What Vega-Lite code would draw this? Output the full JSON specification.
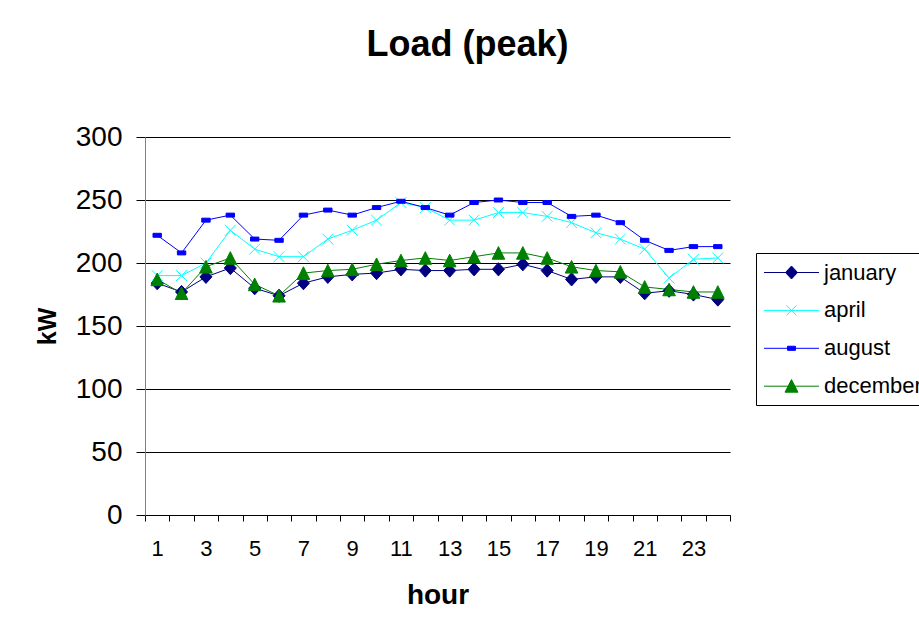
{
  "$schema": "https://vega.github.io/schema/vega-lite/v6.json",
  "width": 585,
  "height": 378,
  "autosize": {"type": "none"},
  "padding": {"left": 145, "top": 137, "right": 189, "bottom": 114},
  "background": "white",
  "config": {"font": "Liberation Sans", "view": {"stroke": null}},
  "title": {"text": "Load (peak)", "fontSize": 36, "fontWeight": "bold", "font": "Liberation Sans", "color": "#000", "anchor": "middle", "dx": 30, "baseline": "alphabetic", "offset": 31},
  "data": {"values": [
    {"hour":1,"series":"january","kW":184},{"hour":2,"series":"january","kW":177},{"hour":3,"series":"january","kW":189},{"hour":4,"series":"january","kW":196},{"hour":5,"series":"january","kW":180},{"hour":6,"series":"january","kW":174},{"hour":7,"series":"january","kW":184},{"hour":8,"series":"january","kW":189},{"hour":9,"series":"january","kW":191},{"hour":10,"series":"january","kW":192},{"hour":11,"series":"january","kW":195},{"hour":12,"series":"january","kW":194},{"hour":13,"series":"january","kW":194},{"hour":14,"series":"january","kW":195},{"hour":15,"series":"january","kW":195},{"hour":16,"series":"january","kW":199},{"hour":17,"series":"january","kW":194},{"hour":18,"series":"january","kW":187},{"hour":19,"series":"january","kW":189},{"hour":20,"series":"january","kW":189},{"hour":21,"series":"january","kW":176},{"hour":22,"series":"january","kW":178},{"hour":23,"series":"january","kW":175},{"hour":24,"series":"january","kW":171},
    {"hour":1,"series":"april","kW":190},{"hour":2,"series":"april","kW":190},{"hour":3,"series":"april","kW":200},{"hour":4,"series":"april","kW":226},{"hour":5,"series":"april","kW":211},{"hour":6,"series":"april","kW":205},{"hour":7,"series":"april","kW":205},{"hour":8,"series":"april","kW":219},{"hour":9,"series":"april","kW":226},{"hour":10,"series":"april","kW":234},{"hour":11,"series":"april","kW":248},{"hour":12,"series":"april","kW":244},{"hour":13,"series":"april","kW":234},{"hour":14,"series":"april","kW":234},{"hour":15,"series":"april","kW":240},{"hour":16,"series":"april","kW":240},{"hour":17,"series":"april","kW":237},{"hour":18,"series":"april","kW":232},{"hour":19,"series":"april","kW":224},{"hour":20,"series":"april","kW":219},{"hour":21,"series":"april","kW":211},{"hour":22,"series":"april","kW":188},{"hour":23,"series":"april","kW":203},{"hour":24,"series":"april","kW":204},
    {"hour":1,"series":"august","kW":222},{"hour":2,"series":"august","kW":208},{"hour":3,"series":"august","kW":234},{"hour":4,"series":"august","kW":238},{"hour":5,"series":"august","kW":219},{"hour":6,"series":"august","kW":218},{"hour":7,"series":"august","kW":238},{"hour":8,"series":"august","kW":242},{"hour":9,"series":"august","kW":238},{"hour":10,"series":"august","kW":244},{"hour":11,"series":"august","kW":249},{"hour":12,"series":"august","kW":244},{"hour":13,"series":"august","kW":238},{"hour":14,"series":"august","kW":248},{"hour":15,"series":"august","kW":250},{"hour":16,"series":"august","kW":248},{"hour":17,"series":"august","kW":248},{"hour":18,"series":"august","kW":237},{"hour":19,"series":"august","kW":238},{"hour":20,"series":"august","kW":232},{"hour":21,"series":"august","kW":218},{"hour":22,"series":"august","kW":210},{"hour":23,"series":"august","kW":213},{"hour":24,"series":"august","kW":213},
    {"hour":1,"series":"december","kW":187},{"hour":2,"series":"december","kW":176},{"hour":3,"series":"december","kW":197},{"hour":4,"series":"december","kW":204},{"hour":5,"series":"december","kW":183},{"hour":6,"series":"december","kW":174},{"hour":7,"series":"december","kW":192},{"hour":8,"series":"december","kW":194},{"hour":9,"series":"december","kW":195},{"hour":10,"series":"december","kW":199},{"hour":11,"series":"december","kW":202},{"hour":12,"series":"december","kW":204},{"hour":13,"series":"december","kW":202},{"hour":14,"series":"december","kW":205},{"hour":15,"series":"december","kW":208},{"hour":16,"series":"december","kW":208},{"hour":17,"series":"december","kW":204},{"hour":18,"series":"december","kW":197},{"hour":19,"series":"december","kW":194},{"hour":20,"series":"december","kW":193},{"hour":21,"series":"december","kW":181},{"hour":22,"series":"december","kW":179},{"hour":23,"series":"december","kW":177},{"hour":24,"series":"december","kW":177}
  ]},
  "encoding": {
    "x": {
      "field": "hour", "type": "quantitative",
      "scale": {"domain": [0.5, 24.5], "nice": false, "zero": false},
      "axis": {
        "title": "hour", "titleFontSize": 28, "titleFontWeight": "bold", "titleColor": "#000", "titlePadding": 22,
        "values": [0.5,1,1.5,2,2.5,3,3.5,4,4.5,5,5.5,6,6.5,7,7.5,8,8.5,9,9.5,10,10.5,11,11.5,12,12.5,13,13.5,14,14.5,15,15.5,16,16.5,17,17.5,18,18.5,19,19.5,20,20.5,21,21.5,22,22.5,23,23.5,24,24.5],
        "labelExpr": "datum.value % 2 === 1 ? '' + datum.value : ''",
        "labelOverlap": false, "labelFlush": false, "labelBound": false,
        "labelFontSize": 22, "labelColor": "#000", "labelPadding": 17,
        "tickSize": 6, "tickColor": "#000", "tickWidth": 1,
        "tickOpacity": {"condition": {"test": "datum.value % 1 === 0", "value": 0}, "value": 1},
        "domainColor": "#000", "domainWidth": 1, "grid": false
      }
    },
    "y": {
      "field": "kW", "type": "quantitative",
      "scale": {"domain": [0, 300], "nice": false},
      "axis": {
        "title": "kW", "titleFontSize": 25, "titleFontWeight": "bold", "titleColor": "#000", "titlePadding": 15,
        "values": [0, 50, 100, 150, 200, 250, 300],
        "labelFontSize": 28, "labelColor": "#000", "labelPadding": 14,
        "tickSize": 9, "tickColor": "#000", "tickWidth": 1,
        "domainColor": "#808080", "domainWidth": 1,
        "grid": true, "gridColor": "#000", "gridWidth": 1, "gridOpacity": 1
      }
    }
  },
  "layer": [
    {
      "mark": {"type": "line", "strokeWidth": 1},
      "encoding": {
        "color": {"field": "series", "type": "nominal",
          "scale": {"domain": ["january", "april", "august", "december"], "range": ["#000080", "#00FFFF", "#0000FF", "#008000"]},
          "legend": null},
        "order": {"field": "hour", "type": "quantitative"}
      }
    },
    {
      "mark": {"type": "point", "size": 144, "strokeWidth": 1, "opacity": 1},
      "encoding": {
        "fill": {"field": "series", "type": "nominal",
          "scale": {"domain": ["january", "april", "august", "december"], "range": ["#000080", "transparent", "#0000FF", "#008000"]},
          "legend": null},
        "stroke": {"field": "series", "type": "nominal",
          "scale": {"domain": ["january", "april", "august", "december"], "range": ["#000080", "#00FFFF", "#0000FF", "#008000"]},
          "legend": null},
        "shape": {"field": "series", "type": "nominal",
          "scale": {"domain": ["january", "april", "august", "december"], "range": ["M-1,0L0,-1.1L1,0L0,1.1Z", "M-0.9,-0.9L0.9,0.9M-0.9,0.9L0.9,-0.9", "M-0.7,-0.33H0.7V0.33H-0.7Z", "M0,-1.05L1.05,1.05H-1.05Z"]},
          "legend": null}
      }
    },
    {
      "mark": {"type": "point", "size": 576, "strokeWidth": 1, "opacity": 0},
      "encoding": {
        "fill": {"field": "series", "type": "nominal",
          "scale": {"domain": ["january", "april", "august", "december"], "range": ["#000080", "transparent", "#0000FF", "#008000"]},
          "legend": {"title": null, "orient": "none", "legendX": 611, "legendY": 116, "padding": 7, "strokeColor": "#000", "fillColor": "white", "symbolSize": 576, "symbolOffset": 16, "symbolStrokeWidth": 1, "symbolOpacity": 1, "labelFontSize": 22, "labelFont": "Liberation Sans", "labelColor": "#000", "labelOffset": 20, "rowPadding": 13.9, "labelLimit": 300}},
        "stroke": {"field": "series", "type": "nominal",
          "scale": {"domain": ["january", "april", "august", "december"], "range": ["#000080", "#00FFFF", "#0000FF", "#008000"]},
          "legend": {"title": null, "orient": "none", "legendX": 611, "legendY": 116, "padding": 7, "strokeColor": "#000", "fillColor": "white", "symbolSize": 576, "symbolOffset": 16, "symbolStrokeWidth": 1, "symbolOpacity": 1, "labelFontSize": 22, "labelFont": "Liberation Sans", "labelColor": "#000", "labelOffset": 20, "rowPadding": 13.9, "labelLimit": 300}},
        "shape": {"field": "series", "type": "nominal",
          "scale": {"domain": ["january", "april", "august", "december"], "range": ["M-2.29,0H2.29M-0.5,0L0,-0.54L0.5,0L0,0.54Z", "M-2.29,0H2.29M-0.42,-0.42L0.42,0.42M-0.42,0.42L0.42,-0.42", "M-2.29,0H2.29M-0.33,-0.17H0.33V0.17H-0.33Z", "M-2.29,0H2.29M0,-0.55L0.54,0.5H-0.54Z"]},
          "legend": {"title": null, "orient": "none", "legendX": 611, "legendY": 116, "padding": 7, "strokeColor": "#000", "fillColor": "white", "symbolSize": 576, "symbolOffset": 16, "symbolStrokeWidth": 1, "symbolOpacity": 1, "labelFontSize": 22, "labelFont": "Liberation Sans", "labelColor": "#000", "labelOffset": 20, "rowPadding": 13.9, "labelLimit": 300}}
      }
    }
  ],
  "resolve": {"scale": {"fill": "independent", "stroke": "independent", "shape": "independent"}}
}
